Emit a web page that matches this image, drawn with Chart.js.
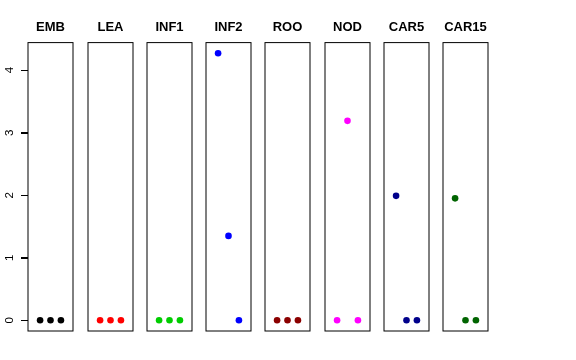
<!DOCTYPE html>
<html>
<head>
<meta charset="utf-8">
<script src="https://cdn.jsdelivr.net/npm/chart.js@4"></script>
<style>
body { margin: 0; background: #fff; }
#wrap { position: relative; width: 576px; height: 360px; }
#wrap canvas { position: absolute; top: 0; }
</style>
</head>
<body>
<div id="wrap"></div>
<script>
// data
const panels = ["EMB", "LEA", "INF1", "INF2", "ROO", "NOD", "CAR5", "CAR15"];
const xPos = [1, 2, 3];
const EMB = [0, 0, 0];
const LEA = [0, 0, 0];
const INF1 = [0, 0, 0];
const INF2 = [4.27, 1.35, 0];
const ROO = [0, 0, 0];
const NOD = [0, 3.19, 0];
const CAR5 = [1.99, 0, 0];
const CAR15 = [1.95, 0, 0];
const yTicks = [0, 1, 2, 3, 4];

const values = [EMB, LEA, INF1, INF2, ROO, NOD, CAR5, CAR15];
const colours = ["#000000", "#FF0000", "#00CD00", "#0000FF", "#8B0000", "#FF00FF", "#00008B", "#006400"];

// layout of the panels
const boxLeft = [28, 88, 147, 206, 265, 325, 384, 443];
const boxW = 45, boxBottom = 331, H = 360, pad = 5, tickLen = 7;

// box round each panel, and the tick marks of the shared y axis on the first one
const boxPlugin = {
    id: "box",
    afterDraw(chart) {
        const a = chart.chartArea, ctx = chart.ctx;
        ctx.save();
        ctx.strokeStyle = "#000";
        ctx.lineWidth = 1;
        ctx.strokeRect(a.left, a.top, a.right - a.left, a.bottom - a.top);
        const ys = chart.scales.y;
        if (ys.options.display) {
            ctx.beginPath();
            yTicks.forEach(v => {
                const py = Math.round(ys.getPixelForValue(v)) + 0.5;
                ctx.moveTo(a.left - tickLen, py);
                ctx.lineTo(a.left, py);
            });
            ctx.stroke();
        }
        ctx.restore();
    }
};

const wrap = document.getElementById("wrap");

panels.forEach((name, i) => {
    const first = i === 0;
    const cv = document.createElement("canvas");
    const left = first ? 0 : boxLeft[i] - pad;
    const width = first ? boxLeft[i] + boxW + pad : boxW + 2 * pad;
    cv.width = width; cv.height = H;
    cv.style.left = left + "px";
    cv.style.width = width + "px"; cv.style.height = H + "px";
    wrap.appendChild(cv);

    new Chart(cv, {
        type: "scatter",
        data: {
            datasets: [{
                data: xPos.map((x, j) => ({ x: x, y: values[i][j] })),
                backgroundColor: colours[i],
                borderWidth: 0,
                pointRadius: 3.3,
                pointHoverRadius: 3.3
            }]
        },
        options: {
            responsive: false,
            animation: false,
            devicePixelRatio: 1,
            events: [],
            layout: { padding: { left: first ? 0 : pad, right: pad, top: 20, bottom: H - boxBottom } },
            plugins: { legend: { display: false }, tooltip: { enabled: false } },
            scales: {
                x: {
                    type: "linear", position: "top", min: -0.16, max: 4.16,
                    ticks: { display: false },
                    grid: { display: false, drawTicks: false },
                    border: { display: false },
                    title: {
                        display: true, text: name, color: "#000",
                        font: { family: "'Liberation Sans', Arial, sans-serif", weight: "bold", size: 13 },
                        padding: { top: 0, bottom: 7 }
                    }
                },
                y: {
                    type: "linear", min: -0.171, max: 4.441,
                    display: first,
                    afterBuildTicks: s => { s.ticks = yTicks.map(v => ({ value: v })); },
                    afterFit: s => { s.width = first ? boxLeft[0] : 0; },
                    grid: { drawOnChartArea: false, drawTicks: true, tickLength: tickLen, tickColor: "#000", color: "#000" },
                    border: { display: false },
                    ticks: {
                        color: "#000", minRotation: 90, maxRotation: 90,
                        crossAlign: "center", padding: 8,
                        font: { family: "'Liberation Sans', Arial, sans-serif", size: 11.5 }
                    }
                }
            }
        },
        plugins: [boxPlugin]
    });
});
</script>
</body>
</html>
